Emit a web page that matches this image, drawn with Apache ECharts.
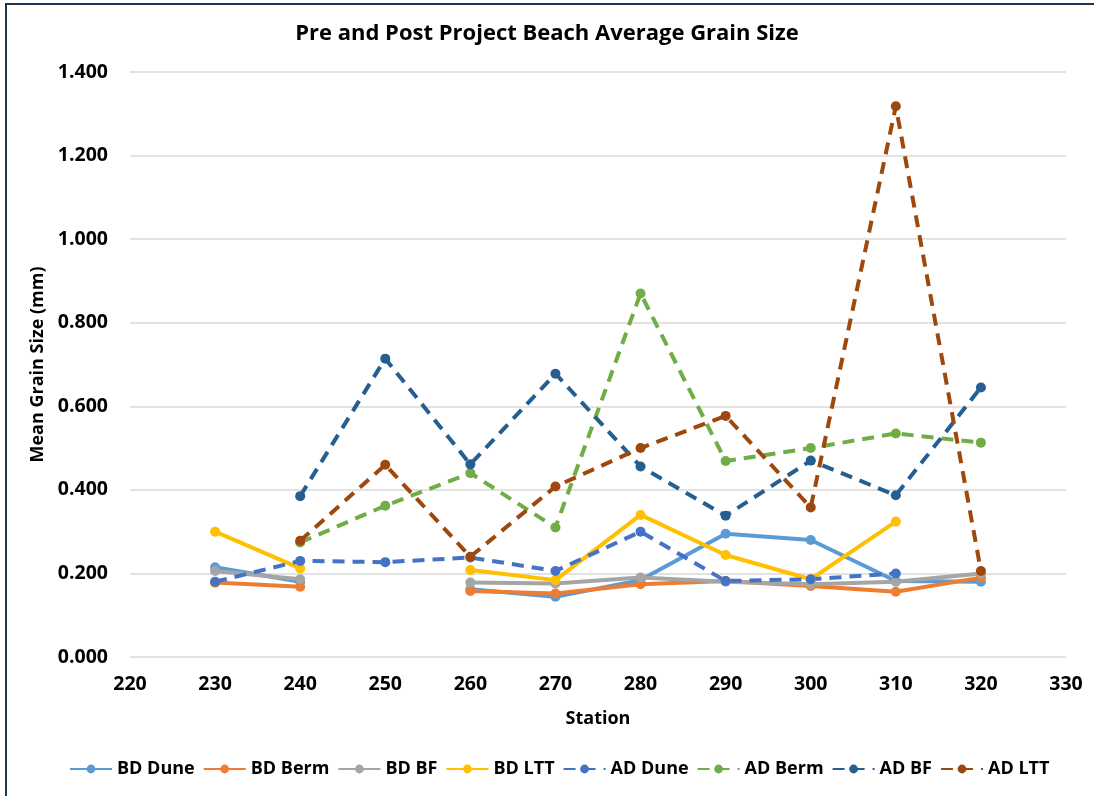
<!DOCTYPE html>
<html>
<head>
<meta charset="utf-8">
<script src="https://cdn.jsdelivr.net/npm/echarts@6/dist/echarts.min.js"></script>
<style>
  html, body { margin: 0; padding: 0; background: #fff; }
  #main { width: 1094px; height: 796px; }
</style>
</head>
<body>
<div id="main"></div>
<script>
// station numbers along the beach
const stations = [230, 240, 250, 260, 270, 280, 290, 300, 310, 320]

// before dredging (solid lines)
const bdDune = [0.215, 0.180, null, 0.162, 0.144, 0.184, 0.295, 0.280, 0.182, 0.180]
const bdBerm = [0.178, 0.168, null, 0.158, 0.152, 0.174, 0.182, 0.170, 0.156, 0.190]
const bdBf = [0.206, 0.186, null, 0.178, 0.176, 0.190, 0.180, 0.174, 0.180, 0.200]
const bdLtt = [0.300, 0.212, null, 0.208, 0.184, 0.340, 0.244, 0.186, 0.324, null]

// after dredging (dashed lines)
const adDune = [0.180, 0.230, 0.227, 0.238, 0.206, 0.300, 0.182, 0.186, 0.200, null]
const adBerm = [null, 0.274, 0.362, 0.440, 0.310, 0.870, 0.469, 0.500, 0.535, 0.513]
const adBf = [null, 0.385, 0.714, 0.461, 0.678, 0.456, 0.338, 0.470, 0.387, 0.645]
const adLtt = [null, 0.278, 0.460, 0.240, 0.408, 0.500, 0.577, 0.358, 1.318, 0.206]

const FONT = 'Open Sans'

function pairs(vals) {
  return stations.map((s, i) => [s, vals[i] == null ? '-' : vals[i]])
}

function mkSeries(name, vals, color, dashed) {
  return {
    name: name,
    type: 'line',
    data: pairs(vals),
    symbol: 'circle',
    symbolSize: 10,
    connectNulls: false,
    itemStyle: { color: color },
    lineStyle: { color: color, width: 4, type: dashed ? [12, 8] : 'solid' },
    emphasis: { disabled: true },
    animation: false
  }
}

const chart = echarts.init(document.getElementById('main'), null, { renderer: 'canvas' })

const option = {
  backgroundColor: '#ffffff',
  title: {
    text: 'Pre and Post Project Beach Average Grain Size',
    left: 'center',
    top: 18,
    textStyle: { fontFamily: FONT, fontSize: 22, fontWeight: 'bold', color: '#000' }
  },
  graphic: [{
    type: 'rect',
    shape: { x: 6, y: 4, width: 1200, height: 900 },
    style: { fill: 'none', stroke: '#1F3550', lineWidth: 2 },
    silent: true
  }],
  legend: {
    bottom: 13,
    left: 64,
    itemWidth: 42,
    itemHeight: 11,
    itemGap: 8,
    textStyle: { fontFamily: FONT, fontSize: 18, fontWeight: 'bold', color: '#000' },
    data: ['BD Dune', 'BD Berm', 'BD BF', 'BD LTT', 'AD Dune', 'AD Berm', 'AD BF', 'AD LTT']
  },
  grid: { left: 130, right: 28, top: 72, bottom: 139 },
  xAxis: {
    type: 'value',
    min: 220,
    max: 330,
    interval: 10,
    name: 'Station',
    nameLocation: 'middle',
    nameGap: 53,
    nameTextStyle: { fontFamily: FONT, fontSize: 18, fontWeight: 'bold', color: '#000' },
    axisLine: { show: false },
    axisTick: { show: false },
    splitLine: { show: false },
    axisLabel: { fontFamily: FONT, fontSize: 19.5, fontWeight: 'bold', color: '#000', margin: 17 }
  },
  yAxis: {
    type: 'value',
    min: 0,
    max: 1.4,
    interval: 0.2,
    name: 'Mean Grain Size (mm)',
    nameLocation: 'middle',
    nameGap: 76,
    nameTextStyle: { fontFamily: FONT, fontSize: 18, fontWeight: 'bold', color: '#000' },
    axisLine: { show: false },
    axisTick: { show: false },
    splitLine: { lineStyle: { color: '#D9D9D9', width: 1.5 } },
    axisLabel: {
      fontFamily: FONT, fontSize: 19.5, fontWeight: 'bold', color: '#000', margin: 22,
      formatter: v => v.toFixed(3)
    }
  },
  series: [
    mkSeries('BD Dune', bdDune, '#5B9BD5', false),
    mkSeries('BD Berm', bdBerm, '#ED7D31', false),
    mkSeries('BD BF', bdBf, '#A5A5A5', false),
    mkSeries('BD LTT', bdLtt, '#FFC000', false),
    mkSeries('AD Dune', adDune, '#4472C4', true),
    mkSeries('AD Berm', adBerm, '#70AD47', true),
    mkSeries('AD BF', adBf, '#255E91', true),
    mkSeries('AD LTT', adLtt, '#9E480E', true)
  ]
}

chart.setOption(option)
</script>
</body>
</html>
